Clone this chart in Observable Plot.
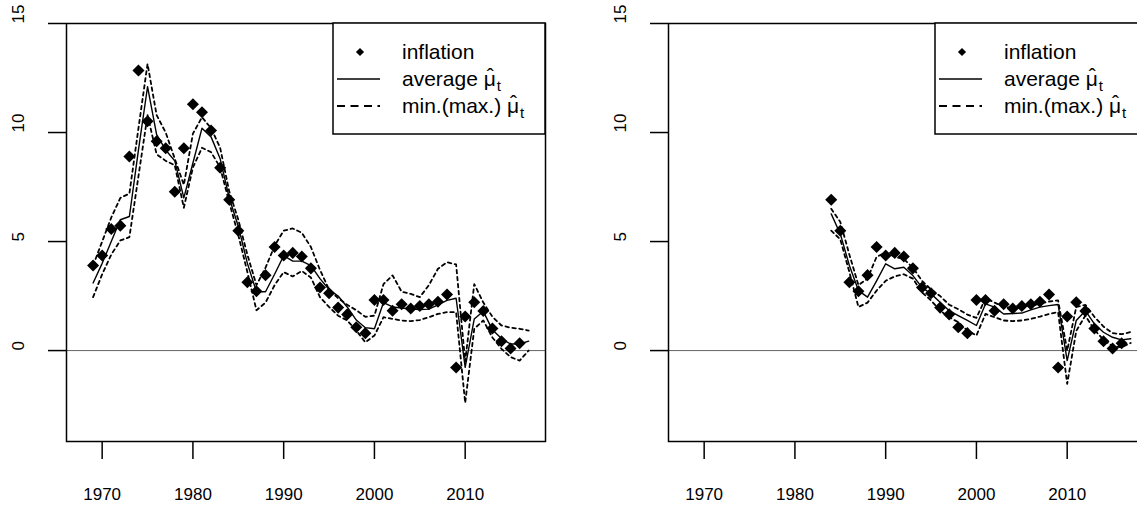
<!DOCTYPE html>
<html><head><meta charset="utf-8">
<script src="https://cdn.jsdelivr.net/npm/d3@7"></script>
<script src="https://cdn.jsdelivr.net/npm/@observablehq/plot@0.6"></script>
<style>
body{margin:0;background:#fff;}
#wrap{position:relative;width:1137px;height:506px;overflow:hidden;background:#fff;}
#wrap svg{position:absolute;top:0;}
</style></head><body><div id="wrap"></div>
<script>
// ---- data ----
const inflationYears = [1969,1970,1971,1972,1973,1974,1975,1976,1977,1978,1979,1980,1981,1982,1983,1984,1985,1986,1987,1988,1989,1990,1991,1992,1993,1994,1995,1996,1997,1998,1999,2000,2001,2002,2003,2004,2005,2006,2007,2008,2009,2010,2011,2012,2013,2014,2015,2016];
const inflation = [3.9,4.36,5.58,5.73,8.9,12.84,10.52,9.6,9.28,7.28,9.28,11.3,10.93,10.09,8.38,6.92,5.5,3.13,2.72,3.46,4.75,4.36,4.48,4.31,3.77,2.89,2.63,1.97,1.66,1.07,0.8,2.32,2.32,1.83,2.12,1.93,2.04,2.12,2.24,2.57,-0.78,1.56,2.22,1.81,1.01,0.43,0.1,0.34];

// left panel: estimates 1969-2017
const leftYears = [1969,1970,1971,1972,1973,1974,1975,1976,1977,1978,1979,1980,1981,1982,1983,1984,1985,1986,1987,1988,1989,1990,1991,1992,1993,1994,1995,1996,1997,1998,1999,2000,2001,2002,2003,2004,2005,2006,2007,2008,2009,2010,2011,2012,2013,2014,2015,2016,2017];
const leftAvg = [3.1,4.0,5.0,6.0,6.15,9.2,12.1,9.9,9.2,8.7,7.0,8.6,10.2,9.8,8.8,7.0,5.7,4.0,2.7,2.7,3.5,4.35,4.1,4.1,3.9,3.3,2.8,2.5,2.0,1.4,1.05,1.0,2.2,2.0,1.95,1.9,1.88,1.9,2.1,2.3,2.4,-0.77,1.45,1.8,0.95,0.55,0.3,0.3,0.43];
const leftMax = [3.9,5.0,6.1,7.0,7.2,10.2,13.15,10.8,10.0,8.8,7.6,9.95,10.7,10.2,9.3,7.3,6.0,4.4,3.0,3.8,4.8,5.5,5.6,5.4,4.75,3.7,2.8,2.4,2.1,1.85,1.55,1.6,3.05,3.45,2.7,2.6,2.45,3.0,3.75,4.05,3.95,-0.5,3.05,2.2,1.55,1.15,1.05,1.0,0.92];
const leftMin = [2.45,3.5,4.4,5.05,5.2,8.0,10.8,9.0,8.7,8.5,6.55,8.4,9.3,9.1,8.4,6.8,5.3,3.6,1.85,2.2,3.0,3.6,3.4,3.65,3.35,2.45,2.0,1.6,1.38,0.92,0.38,0.69,1.53,1.45,1.38,1.35,1.4,1.53,1.68,1.76,1.76,-2.4,1.0,1.38,0.6,0.08,-0.3,-0.46,0.0];

// right panel: estimates 1984-2017
const rightYears = [1984,1985,1986,1987,1988,1989,1990,1991,1992,1993,1994,1995,1996,1997,1998,1999,2000,2001,2002,2003,2004,2005,2006,2007,2008,2009,2010,2011,2012,2013,2014,2015,2016,2017];
const rightAvg = [6.27,5.35,3.9,2.75,2.45,3.2,3.98,3.75,3.82,3.44,2.9,2.6,2.22,1.83,1.6,1.38,1.15,2.14,1.99,1.68,1.7,1.72,1.87,1.99,2.06,2.11,-0.46,1.38,1.83,1.22,0.84,0.61,0.49,0.54];
const rightMax = [6.5,5.9,4.4,3.0,3.3,4.3,4.5,4.3,4.2,3.8,3.2,2.8,2.5,2.1,1.9,1.65,1.5,2.4,2.2,2.0,1.95,1.95,2.05,2.15,2.25,2.3,0.0,2.0,2.1,1.55,1.1,0.8,0.75,0.85];
const rightMin = [5.5,5.1,3.6,2.0,2.2,2.75,3.2,3.4,3.5,3.3,2.67,2.3,1.83,1.53,1.3,0.92,0.69,1.68,1.53,1.38,1.35,1.38,1.45,1.56,1.68,1.76,-1.53,0.9,1.6,0.95,0.5,0.2,0.15,0.35];

const xTicks = [1970,1980,1990,2000,2010];
const yTicks = [0,5,10,15];
const legendLabels = ["inflation","average ","min.(max.) "];

// ---- drawing ----
const FONT = "'Liberation Sans', Arial, Helvetica, sans-serif";
const W = 602, H = 506, ML = 66, MR = 57, MT = 23, MB = 65;

function panel(years, avg, lo, hi) {
  const start = years[0];
  const infl = inflationYears.map((y,i)=>({year:y, value:inflation[i]})).filter(d=>d.year>=start);
  const est = years.map((y,i)=>({year:y, avg:avg[i], lo:lo[i], hi:hi[i]}));
  return Plot.plot({
    width: W, height: H, marginLeft: ML, marginRight: MR, marginTop: MT, marginBottom: MB,
    x: {domain: [1966.07, 2018.85]},
    y: {domain: [-4.17, 15]},
    style: {fontFamily: FONT, fontSize: "17px", background: "white", color: "black", overflow: "visible"},
    marks: [
      Plot.ruleY([0], {stroke: "#666", strokeWidth: 1}),
      Plot.line(est, {x: "year", y: "hi", stroke: "black", strokeWidth: 1.8, strokeDasharray: "3.5,3.5"}),
      Plot.line(est, {x: "year", y: "lo", stroke: "black", strokeWidth: 1.8, strokeDasharray: "3.5,3.5"}),
      Plot.line(est, {x: "year", y: "avg", stroke: "black", strokeWidth: 1.4}),
      Plot.dot(infl, {x: "year", y: "value", symbol: "square", rotate: 45, r: 4.8, fill: "black", stroke: null}),
      Plot.frame({stroke: "black", strokeWidth: 1.5}),
      Plot.axisX({ticks: xTicks, tickSize: 18, tickPadding: 28, strokeWidth: 1.5, tickFormat: d => String(d), label: null, fontSize: 17}),
      Plot.axisY({ticks: yTicks, tickSize: 18, strokeWidth: 1.5, tickFormat: () => "", label: null}),
      Plot.text(yTicks, {y: d => d, frameAnchor: "left", dx: -48, rotate: -90, text: d => String(d), fontSize: 17})
    ]
  });
}

function measure(g, str, size) {
  const t = g.append("text").attr("font-size", size).attr("xml:space", "preserve").text(str);
  const w = t.node().getComputedTextLength();
  t.remove();
  return w;
}

function addLegend(svg) {
  const g = d3.select(svg).append("g").attr("font-family", FONT).attr("fill", "black").attr("text-anchor", "start");
  const x0 = 333, x1 = W - MR, y0 = MT, y1 = 134;
  g.append("rect").attr("x", x0).attr("y", y0).attr("width", x1 - x0).attr("height", y1 - y0)
    .attr("fill", "white").attr("stroke", "black").attr("stroke-width", 1.5);
  const rows = [52, 79, 106];
  const tx = 402;
  // symbols
  g.append("path").attr("d", d3.symbol(d3.symbolSquare, 34)()).attr("transform", `translate(360,${rows[0]}) rotate(45)`).attr("fill", "black");
  g.append("line").attr("x1", 337).attr("x2", 380).attr("y1", rows[1]).attr("y2", rows[1]).attr("stroke", "black").attr("stroke-width", 1.5);
  g.append("line").attr("x1", 337).attr("x2", 380).attr("y1", rows[2]).attr("y2", rows[2]).attr("stroke", "black").attr("stroke-width", 1.8).attr("stroke-dasharray", "8,5.5");
  // labels
  g.append("text").attr("x", tx).attr("y", rows[0] + 7).attr("font-size", 21).text(legendLabels[0]);
  const mw = measure(g, "\u03BC", 21);
  const hw = measure(g, "\u02C6", 21);
  [1, 2].forEach(i => {
    const y = rows[i] + 7;
    const t = g.append("text").attr("x", tx).attr("y", y).attr("font-size", 21).attr("xml:space", "preserve");
    t.append("tspan").text(legendLabels[i]);
    t.append("tspan").text("\u03BC");
    t.append("tspan").attr("dx", -(mw / 2 + hw / 2) + 0.5).attr("dy", -3).text("\u02C6");
    t.append("tspan").attr("dx", mw / 2 - hw / 2 + 0.5).attr("dy", 8).attr("font-size", 15).text("t");
  });
}

const wrap = document.getElementById("wrap");
const left = panel(leftYears, leftAvg, leftMin, leftMax);
left.style.left = "0px";
wrap.appendChild(left);
addLegend(left);
const right = panel(rightYears, rightAvg, rightMin, rightMax);
right.style.left = W + "px";
wrap.appendChild(right);
addLegend(right);
</script></body></html>
